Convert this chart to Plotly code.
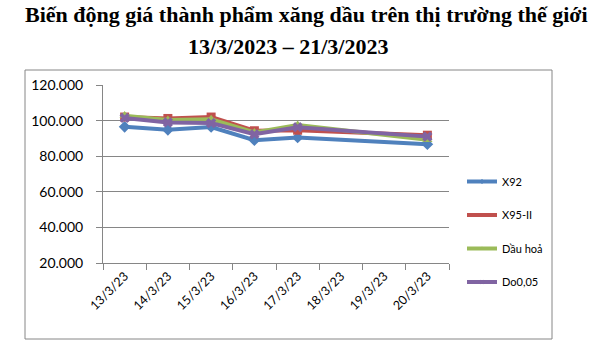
import plotly.graph_objects as go

dates = ["13/3/23", "14/3/23", "15/3/23", "16/3/23", "17/3/23", "18/3/23", "19/3/23", "20/3/23"]
x92 = [96.5, 94.8, 96.4, 89.0, 90.5, None, None, 86.7]
x95 = [102.0, 101.2, 102.0, 94.3, 94.6, None, None, 91.8]
dau_hoa = [102.8, 100.3, 100.8, 93.3, 97.5, None, None, 89.3]
do005 = [101.5, 99.0, 98.6, 92.3, 96.3, None, None, 91.0]

y_ticks = [20, 40, 60, 80, 100, 120]
y_labels = ["20.000", "40.000", "60.000", "80.000", "100.000", "120.000"]

series = [
    ("X92", x92, "#4F81BD", "diamond"),
    ("X95-II", x95, "#C0504D", "square"),
    ("Dầu hoả", dau_hoa, "#9BBB59", "triangle-up"),
    ("Do0,05", do005, "#8064A2", "x"),
]

fig = go.Figure()
for i, (name, vals, color, sym) in enumerate(series):
    fig.add_trace(go.Scatter(
        x=dates, y=vals, name=name, mode="lines+markers",
        connectgaps=True, legendgroup=str(i), showlegend=False,
        line=dict(color=color, width=4),
        marker=dict(symbol=sym, size=9, color=color),
    ))
    # legend entry with a small marker, as in the reference
    fig.add_trace(go.Scatter(
        x=[None], y=[None], name=name, mode="lines+markers",
        legendgroup=str(i), showlegend=True,
        line=dict(color=color, width=4),
        marker=dict(symbol=sym, size=4, color=color),
    ))

gray = "#868686"
L, R, T, B = 103, 155, 85, 90
W, H = 604, 353
pw, ph = W - L - R, H - T - B

def px_to_paper_x(px):
    return (px - L) / pw

def px_to_paper_y(py):
    return (H - B - py) / ph

fig.update_layout(
    width=W, height=H,
    margin=dict(l=L, r=R, t=T, b=B, pad=0),
    paper_bgcolor="white", plot_bgcolor="white",
    font=dict(family="Lato", size=12, color="black"),
    showlegend=True,
    legend=dict(
        x=px_to_paper_x(462), y=px_to_paper_y(167), xanchor="left", yanchor="top",
        traceorder="grouped", tracegroupgap=14.5,
        font=dict(family="Lato", size=11), itemwidth=30,
        bgcolor="rgba(0,0,0,0)",
    ),
    xaxis=dict(
        type="category", categoryorder="array", categoryarray=dates,
        showline=True, linecolor=gray, linewidth=1,
        ticks="outside", ticklen=6, tickcolor=gray, tickson="boundaries",
        showgrid=False, tickangle=-45, tickfont=dict(family="Lato", size=12.5),
        range=[-0.5, 7.5],
    ),
    yaxis=dict(
        range=[20, 120], tickvals=y_ticks, ticktext=y_labels,
        showline=True, linecolor=gray, linewidth=1,
        ticks="outside", ticklen=6, tickcolor=gray, ticklabelstandoff=10,
        showgrid=True, gridcolor=gray, gridwidth=1, zeroline=False,
        tickfont=dict(family="Lato", size=14),
    ),
    shapes=[dict(
        type="rect", xref="paper", yref="paper",
        x0=px_to_paper_x(25), x1=px_to_paper_x(552),
        y0=px_to_paper_y(339), y1=px_to_paper_y(70),
        line=dict(color=gray, width=1), fillcolor="rgba(0,0,0,0)", layer="below",
    )],
    annotations=[
        dict(text="<b>Biến động giá thành phẩm xăng dầu trên thị trường thế giới</b>",
             xref="paper", yref="paper", x=px_to_paper_x(306), y=px_to_paper_y(14),
             xanchor="center", yanchor="middle", showarrow=False,
             font=dict(family="Liberation Serif", size=22, color="black")),
        dict(text="<b>13/3/2023 – 21/3/2023</b>",
             xref="paper", yref="paper", x=px_to_paper_x(288), y=px_to_paper_y(47),
             xanchor="center", yanchor="middle", showarrow=False,
             font=dict(family="Liberation Serif", size=22, color="black")),
    ],
)

fig.write_html("out.html")
